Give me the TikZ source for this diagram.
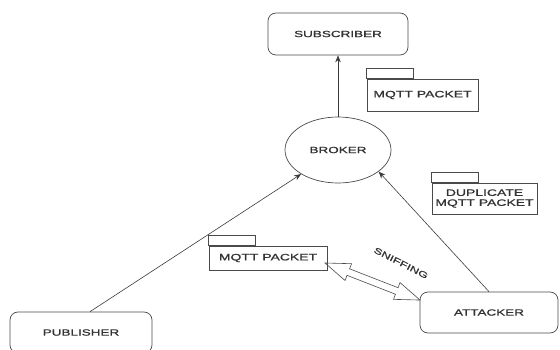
\documentclass[tikz,border=0pt]{standalone}
\usepackage{fontspec}
\newfontfamily\lblfont[FakeStretch=1.5, FakeBold=1.2]{Liberation Sans}
\usepackage{tikz}
\usetikzlibrary{positioning, arrows.meta, calc, shapes.geometric}
\definecolor{edge}{HTML}{3A3A3A}
\definecolor{frame}{HTML}{4A4A4A}
\definecolor{ink}{HTML}{333333}
\tikzset{
  actor/.style={
    draw=frame, line width=0.7pt, rounded corners=8pt,
    minimum width=140pt, minimum height=42pt, text=ink,
    font=\lblfont\fontsize{9}{10}\selectfont
  },
  hub/.style={
    ellipse, draw=frame, line width=0.7pt, text=ink,
    minimum width=106pt, minimum height=66pt, inner sep=0pt,
    font=\lblfont\fontsize{9}{10}\selectfont
  },
  packet/.style={
    draw=frame, line width=0.7pt, align=center, text=ink,
    inner sep=1pt,
    font=\lblfont\fontsize{9.3}{10}\selectfont
  },
  flow/.style={-{Stealth[length=7pt, width=5.5pt]}, line width=0.6pt, color=edge}
}
\newcommand{\pkttab}[1]{%
  \draw[draw=frame, line width=0.7pt] (#1.north west) rectangle ++(47,-10);}
\begin{document}
\begin{tikzpicture}[x=1pt, y=-1pt]
  \useasboundingbox (0,0) rectangle (560,350);

  % actors
  \node[actor] (subscriber) at (338,34) {SUBSCRIBER};
  \node[hub] (broker) at (338,150) {BROKER};
  \node[actor, minimum width=142pt, minimum height=41pt] (publisher) at (81,332.5) {PUBLISHER};
  \node[actor, minimum width=138pt, minimum height=41pt] (attacker) at (489,312.5) {ATTACKER};

  % packets
  \node[packet, minimum width=111pt, minimum height=32pt] (pkt) at (422.5,95) {MQTT PACKET};
  \node[packet, minimum width=105pt, minimum height=31pt] (duppkt) at (484.5,198.5) {DUPLICATE\\MQTT PACKET};
  \node[packet, minimum width=118pt, minimum height=24pt] (sniffpkt) at (268,258) {MQTT PACKET};
  \pkttab{pkt}
  \pkttab{duppkt}
  \pkttab{sniffpkt}

  % flows
  \draw[flow] ($(publisher.north)+(9,0)$) -- (broker);
  \draw[flow] (broker.north) -- (subscriber.south);
  \draw[flow] (attacker.north) -- (broker.-28);

  % sniffing
  \coordinate (sniffL) at (325,263);
  \coordinate (sniffR) at (420,300);
  \begin{scope}[shift={(sniffL)}, rotate=-21.3]
    \draw[draw=frame, line width=0.6pt, line join=miter]
      (0,0) -- (25,-9) -- (25,-3.5) -- (77,-3.5) -- (77,-9) -- (102,0)
      -- (77,9) -- (77,3.5) -- (25,3.5) -- (25,9) -- cycle;
  \end{scope}
  \node[rotate=-27, text=ink, font=\lblfont\fontsize{8.5}{9}\selectfont] (sniff) at (401,263) {SNIFFING};
\end{tikzpicture}
\end{document}
